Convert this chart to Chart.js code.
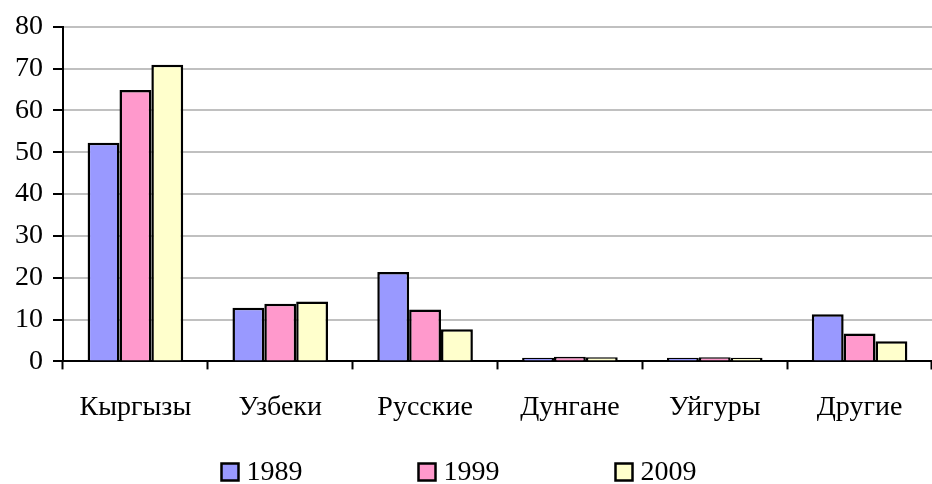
<!DOCTYPE html>
<html>
<head>
<meta charset="utf-8">
<script src="https://cdn.jsdelivr.net/npm/chart.js@4/dist/chart.umd.min.js"></script>
<style>
  html, body { margin: 0; padding: 0; background: #fff; }
  #wrap { width: 932px; height: 484px; }
</style>
</head>
<body>
<div id="wrap"><canvas id="popChart" width="932" height="484"></canvas></div>
<script>
// Data
const categories = ['Кыргызы', 'Узбеки', 'Русские', 'Дунгане', 'Уйгуры', 'Другие'];
const years = ['1989', '1999', '2009'];
const values1989 = [52.3, 12.8, 21.4, 0.9, 0.9, 11.3];
const values1999 = [64.9, 13.8, 12.4, 1.1, 1.0, 6.7];
const values2009 = [70.9, 14.3, 7.7, 1.0, 0.9, 4.8];
const yTicks = [0, 10, 20, 30, 40, 50, 60, 70, 80];

const fills = ['#9999ff', '#ff99cc', '#ffffcc'];
const fontFamily = '"Liberation Serif", "Times New Roman", serif';
const font = { family: fontFamily, size: 28 };

// legend drawn by hand: the items sit far apart, which the built-in legend can't do
const wideLegend = {
    id: 'wideLegend',
    afterDraw(chart) {
        const c = chart.ctx;
        const gap = 197, box = 17;
        c.save();
        c.font = '28px ' + fontFamily;
        c.textBaseline = 'middle';
        const items = chart.data.datasets;
        const lastW = box + 8 + c.measureText(items[items.length - 1].label).width;
        let x = chart.width / 2 - (gap * (items.length - 1) + lastW) / 2 - 7;
        const y = 472;
        items.forEach(ds => {
            c.fillStyle = ds.backgroundColor;
            c.fillRect(x, y - box / 2, box, box);
            c.strokeStyle = '#000';
            c.lineWidth = 2.5;
            c.strokeRect(x, y - box / 2, box, box);
            c.fillStyle = '#000';
            c.fillText(ds.label, x + box + 8, y + 1);
            x += gap;
        });
        c.restore();
    }
};

let ctx = document.getElementById('popChart').getContext('2d');
let popChart = new Chart(ctx, {
    type: 'bar',
    data: {
        labels: categories,
        datasets: [values1989, values1999, values2009].map((vals, i) => ({
            label: years[i],
            data: vals,
            backgroundColor: fills[i],
            borderColor: '#000',
            borderWidth: 2.5,
            borderSkipped: 'bottom',
            barPercentage: 1,
            categoryPercentage: 0.66
        }))
    },
    options: {
        responsive: false,
        animation: false,
        layout: { padding: { top: 10, right: -6, left: 5, bottom: 39 } },
        plugins: {
            tooltip: { enabled: false },
            legend: { display: false }
        },
        scales: {
            x: {
                border: { color: '#000', width: 2 },
                grid: { drawOnChartArea: false, drawTicks: true, tickLength: 8, tickColor: '#000', tickWidth: 2 },
                ticks: { color: '#000', font: font, padding: 21, maxRotation: 0 }
            },
            y: {
                min: 0,
                max: 80,
                afterBuildTicks: axis => { axis.ticks = yTicks.map(v => ({ value: v })); },
                border: { color: '#000', width: 2 },
                grid: { color: '#c0c0c0', lineWidth: 2, tickColor: '#000', tickLength: 10, tickWidth: 2 },
                ticks: { color: '#000', font: font, padding: 10 }
            }
        }
    },
    plugins: [wideLegend]
});
</script>
</body>
</html>
